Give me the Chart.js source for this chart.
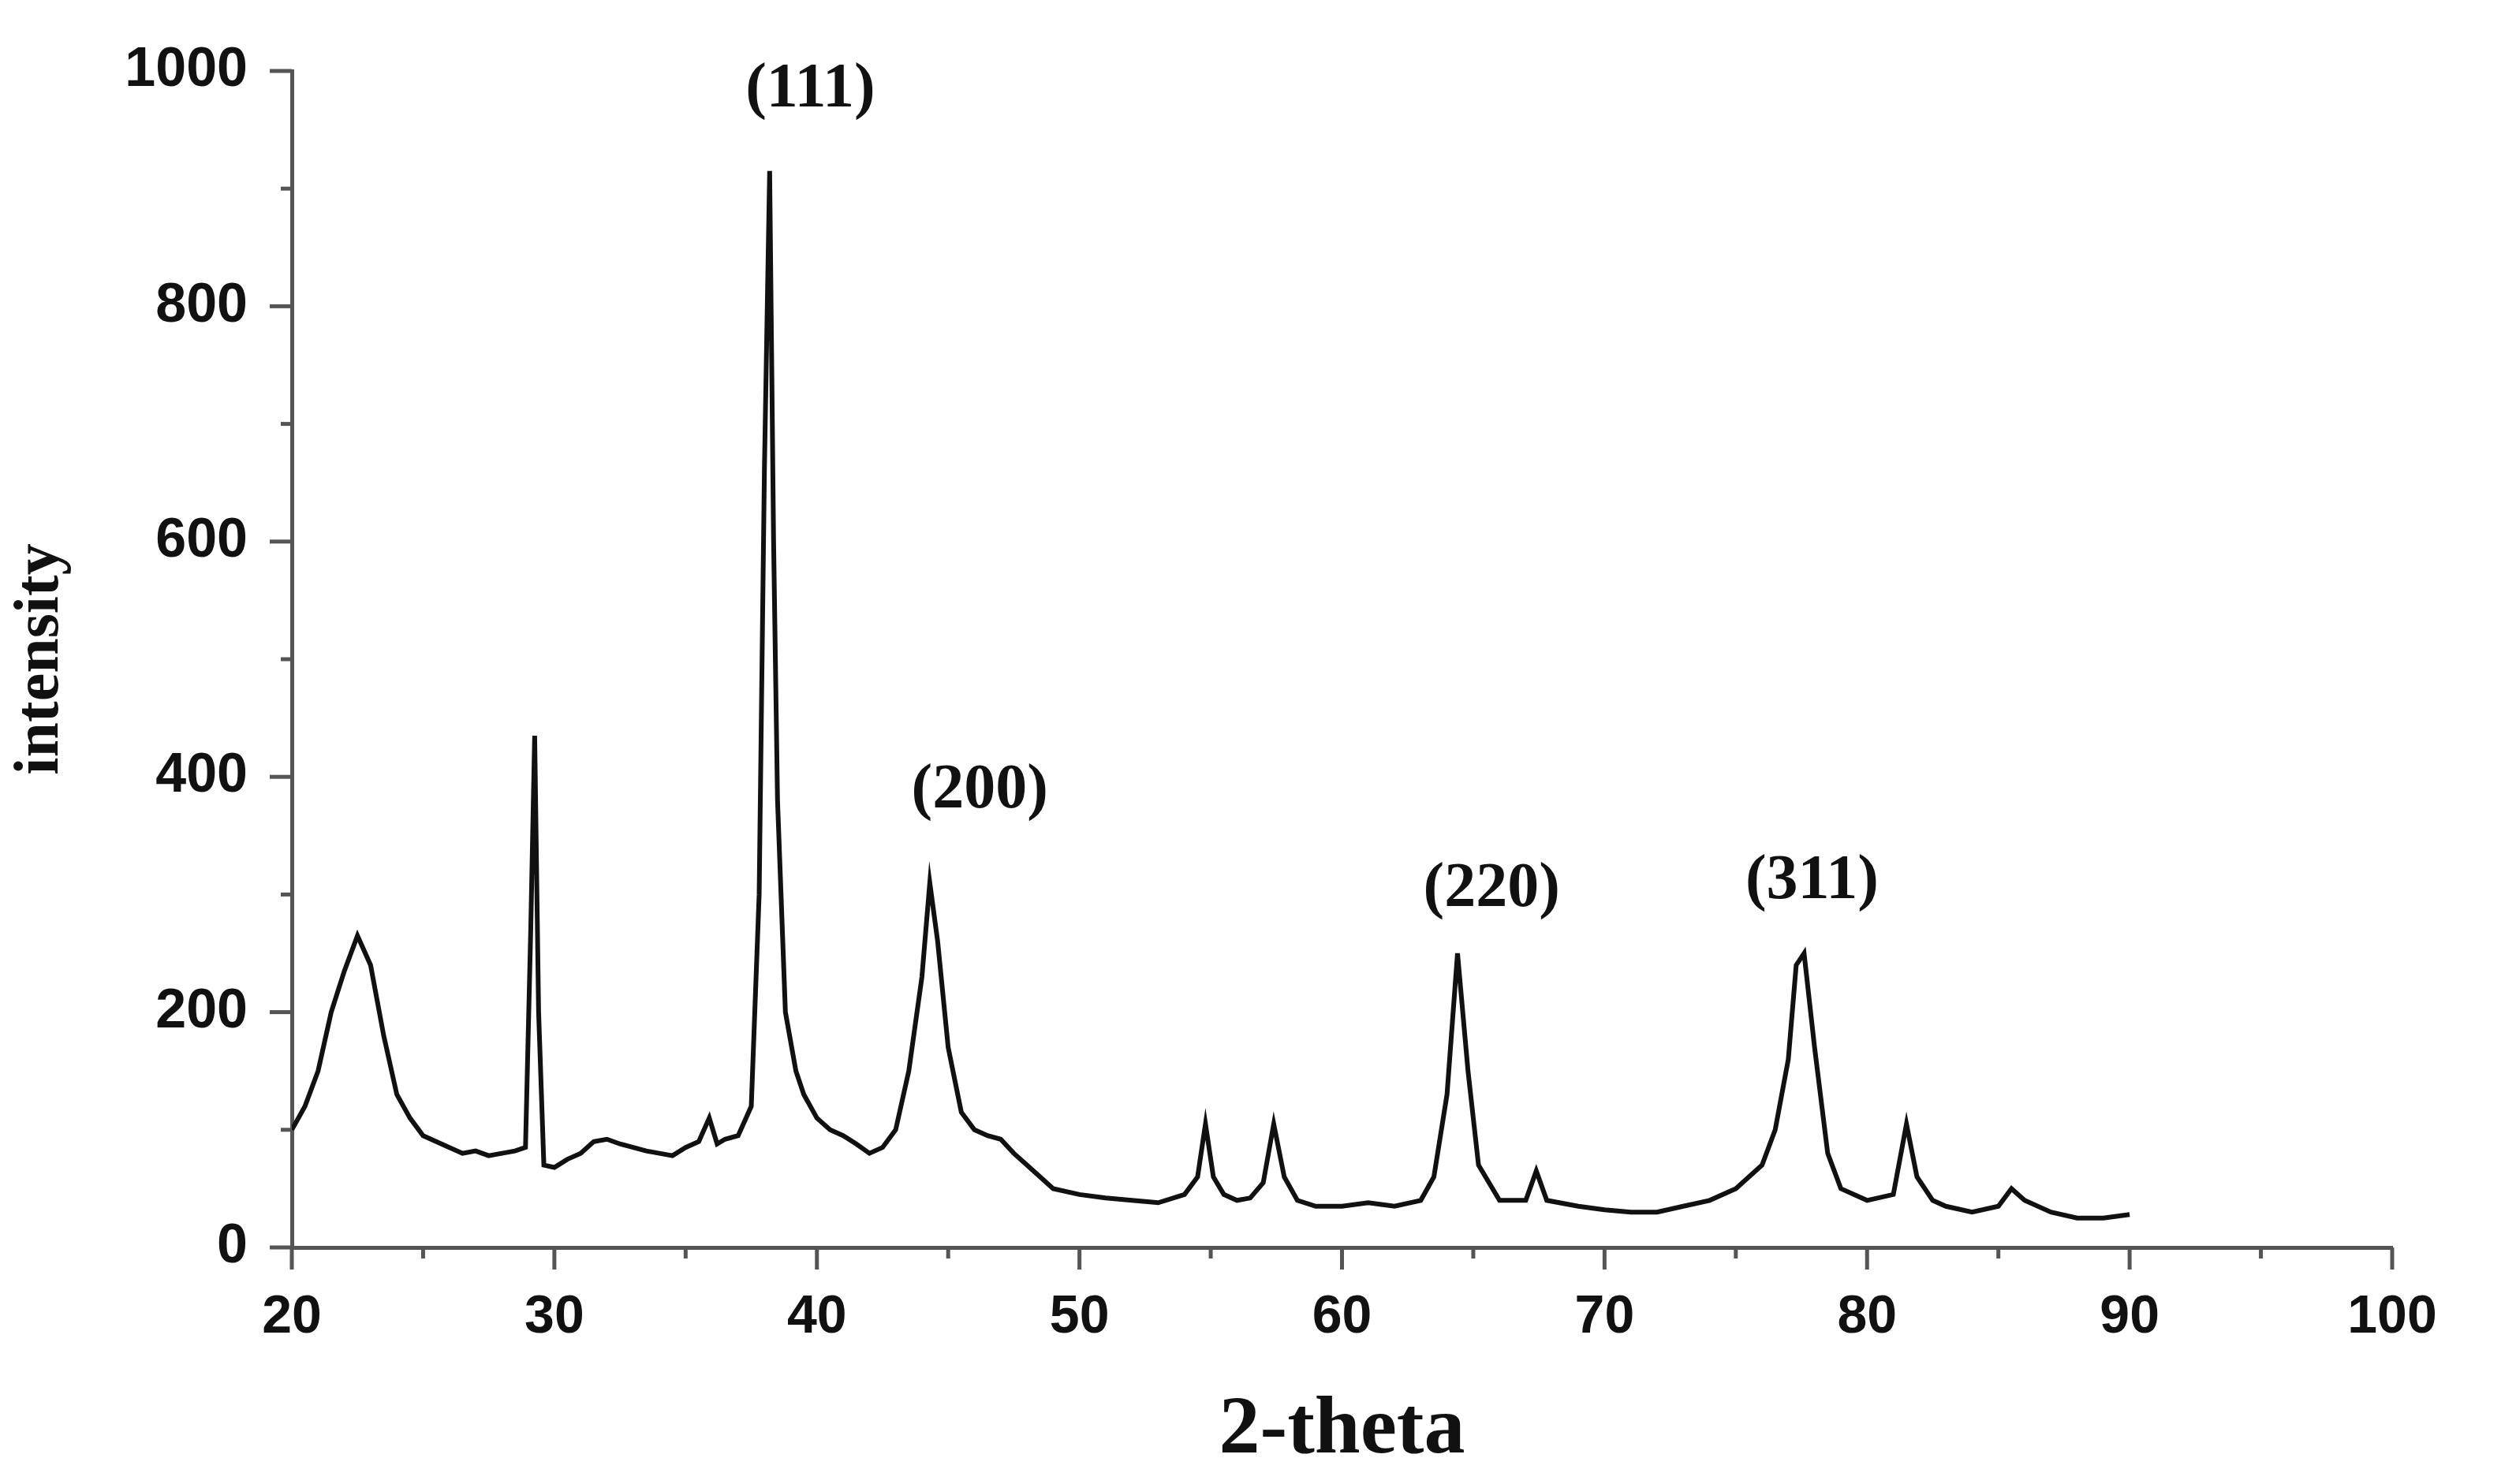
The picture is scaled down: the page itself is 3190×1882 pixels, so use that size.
<!DOCTYPE html>
<html>
<head>
<meta charset="utf-8">
<script src="https://cdn.jsdelivr.net/npm/chart.js@4"></script>
<style>
  html, body { margin: 0; padding: 0; background: #fff; }
  #wrap { width: 3190px; height: 1882px; }
</style>
</head>
<body>
<div id="wrap"><canvas id="xrd" width="3190" height="1882"></canvas></div>
<script>
const twoTheta = [
  20, 20.5, 21, 21.5, 22, 22.5, 22.8, 23, 23.5, 24, 24.5, 25, 25.5, 26, 26.5, 27, 27.5, 28, 28.5, 28.9,
  29.1, 29.25, 29.4, 29.6, 30, 30.5, 31, 31.5, 32, 32.5, 33, 33.5, 34, 34.5, 35, 35.5, 35.9, 36.2, 36.5, 37,
  37.5, 37.8, 38.0, 38.2, 38.35, 38.5, 38.8, 39.2, 39.5, 40, 40.5, 41, 41.5, 42, 42.5, 43, 43.5, 44, 44.3, 44.6,
  45, 45.5, 46, 46.5, 47, 47.5, 48, 48.5, 49, 50, 51, 52, 53, 54, 54.5, 54.8, 55.1, 55.5, 56, 56.5,
  57, 57.4, 57.8, 58.3, 59, 60, 61, 62, 63, 63.5, 64, 64.4, 64.8, 65.2, 66, 67, 67.4, 67.8, 69, 70,
  71, 72, 73, 74, 75, 76, 76.5, 77, 77.3, 77.6, 78, 78.5, 79, 80, 81, 81.5, 81.9, 82.5, 83, 84,
  85, 85.5, 86, 87, 88, 89, 90
];
const intensity = [
  100, 120, 150, 200, 235, 265, 250, 240, 180, 130, 110, 95, 90, 85, 80, 82, 78, 80, 82, 85,
  270, 435, 200, 70, 68, 75, 80, 90, 92, 88, 85, 82, 80, 78, 85, 90, 110, 88, 92, 95,
  120, 300, 660, 915, 600, 380, 200, 150, 130, 110, 100, 95, 88, 80, 85, 100, 150, 230, 310, 260,
  170, 115, 100, 95, 92, 80, 70, 60, 50, 45, 42, 40, 38, 45, 60, 105, 60, 45, 40, 42,
  55, 105, 60, 40, 35, 35, 38, 35, 40, 60, 130, 250, 150, 70, 40, 40, 65, 40, 35, 32,
  30, 30, 35, 40, 50, 70, 100, 160, 240, 250, 170, 80, 50, 40, 45, 105, 60, 40, 35, 30,
  35, 50, 40, 30, 25, 25, 28
];
const peakLabels = ['(111)', '(200)', '(220)', '(311)'];
const peakLabelX = [39.75, 46.2, 65.7, 77.9];
const peakLabelY = [984, 388, 304, 311];
const xMajorTicks = [20, 30, 40, 50, 60, 70, 80, 90, 100];
const yMajorTicks = [0, 200, 400, 600, 800, 1000];

const points = twoTheta.map((t, i) => ({ x: t, y: intensity[i] }));

// draws outward tick marks (long for labelled values, short for minor ones) and peak labels
const extrasPlugin = {
  id: 'extras',
  afterDraw(chart) {
    const ctx = chart.ctx;
    const xs = chart.scales.x, ys = chart.scales.y;
    ctx.save();
    ctx.strokeStyle = '#555';
    ctx.lineWidth = 5;
    xs.ticks.forEach(t => {
      const px = xs.getPixelForValue(t.value);
      const len = xMajorTicks.includes(t.value) ? 28 : 14;
      ctx.beginPath(); ctx.moveTo(px, ys.bottom); ctx.lineTo(px, ys.bottom + len); ctx.stroke();
    });
    ys.ticks.forEach(t => {
      const py = ys.getPixelForValue(t.value);
      const len = yMajorTicks.includes(t.value) ? 28 : 14;
      ctx.beginPath(); ctx.moveTo(xs.left, py); ctx.lineTo(xs.left - len, py); ctx.stroke();
    });
    ctx.fillStyle = '#111';
    ctx.font = 'bold 80px "Liberation Serif", serif';
    ctx.textAlign = 'center';
    ctx.textBaseline = 'middle';
    peakLabels.forEach((s, i) => {
      ctx.fillText(s, xs.getPixelForValue(peakLabelX[i]), ys.getPixelForValue(peakLabelY[i]));
    });
    ctx.restore();
  }
};

new Chart(document.getElementById('xrd').getContext('2d'), {
  type: 'line',
  data: {
    datasets: [{
      data: points,
      borderColor: '#111',
      borderWidth: 6,
      pointRadius: 0,
      tension: 0
    }]
  },
  options: {
    responsive: false,
    animation: false,
    plugins: { legend: { display: false }, tooltip: { enabled: false } },
    layout: { padding: { top: 46, right: 157, left: 0, bottom: 0 } },
    scales: {
      x: {
        type: 'linear', min: 20, max: 100,
        afterFit: s => { s.height = 300; },
        grid: { display: false },
        border: { display: true, color: '#555', width: 5 },
        ticks: {
          stepSize: 5, padding: 40, color: '#111', maxRotation: 0,
          font: { family: '"Liberation Sans", Arial', size: 68, weight: 'bold' },
          callback: v => (v % 10 === 0 ? v : '')
        },
        title: {
          display: true, text: '2-theta', color: '#111', padding: { top: 30 },
          font: { family: '"Liberation Serif", serif', size: 104, weight: 'bold' }
        }
      },
      y: {
        min: 0, max: 1000,
        afterFit: s => { s.width = 370; },
        grid: { display: false },
        border: { display: true, color: '#555', width: 5 },
        ticks: {
          stepSize: 100, padding: 48, color: '#111',
          font: { family: '"Liberation Sans", Arial', size: 70, weight: 'bold' },
          callback: v => (v % 200 === 0 ? v : '')
        },
        title: {
          display: true, text: 'intensity', color: '#111', padding: { bottom: 0 },
          font: { family: '"Liberation Serif", serif', size: 80, weight: 'bold' }
        }
      }
    }
  },
  plugins: [extrasPlugin]
});
</script>
</body>
</html>
